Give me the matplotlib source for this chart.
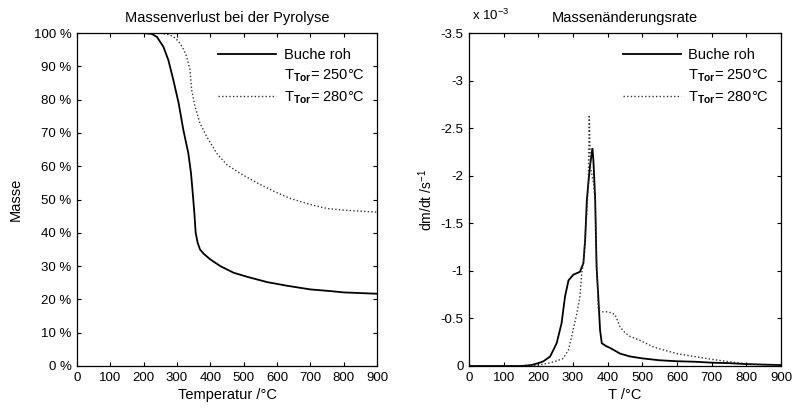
import numpy as np
import matplotlib
matplotlib.use("Agg")
import matplotlib.pyplot as plt
from matplotlib.lines import Line2D
from matplotlib.ticker import FuncFormatter

plt.rcParams['font.family'] = ['Liberation Sans', 'DejaVu Sans']
plt.rcParams['font.size'] = 10
plt.rcParams['axes.unicode_minus'] = False
plt.rcParams['mathtext.fontset'] = 'custom'
plt.rcParams['mathtext.rm'] = 'Liberation Sans'
plt.rcParams['mathtext.bf'] = 'Liberation Sans:bold'

# --- Massenverlust (TGA), Masse in % ---
T_roh = [0, 200, 225, 240, 259, 274, 289, 305, 319, 334, 342, 348, 352, 356,
         362, 369, 380, 400, 430, 470, 510, 570, 630, 700, 760, 800, 900]
m_roh = [100, 100, 99.7, 98.8, 95.9, 91.9, 85.9, 78.9, 70.9, 63.9, 57.9, 51, 46, 40,
         37, 35, 33.7, 32, 30, 28, 26.8, 25.2, 24.1, 23, 22.5, 22.1, 21.7]

T_280 = [0, 250, 279, 295, 309, 320, 329, 339, 344, 354, 369, 389, 419, 449,
         490, 540, 590, 640, 700, 750, 800, 900]
m_280 = [100, 100, 99.4, 98.5, 96.9, 95, 92.9, 88.9, 82.9, 77.9, 72.9, 68.9, 63.9, 60.5,
         57.8, 55, 52.5, 50.3, 48.5, 47.3, 46.8, 46.2]

# --- Massenaenderungsrate dm/dt in 1e-3 1/s ---
Tr_roh = [0, 150, 180, 200, 215, 234, 253, 267, 277, 287, 301, 320, 330, 335, 340,
          345, 349, 352, 356, 359, 364, 368, 373, 378, 383, 395, 407, 436, 465,
          500, 550, 600, 650, 700, 750, 800, 850, 900]
r_roh = [0, 0, -0.01, -0.03, -0.05, -0.10, -0.24, -0.45, -0.73, -0.90, -0.96, -0.99,
         -1.08, -1.32, -1.75, -1.95, -2.10, -2.18, -2.29, -2.15, -1.75, -1.04, -0.73,
         -0.38, -0.24, -0.21, -0.19, -0.13, -0.10, -0.08, -0.06, -0.05, -0.045,
         -0.035, -0.03, -0.02, -0.015, -0.01]

Tr_280 = [0, 180, 200, 230, 250, 272, 287, 296, 311, 320, 325, 330, 335, 340, 344,
          347, 350, 355, 360, 364, 368, 373, 385, 397, 410, 421, 436, 450, 465,
          493, 532, 550, 600, 650, 700, 750, 800, 850, 900]
r_280 = [0, 0, -0.01, -0.03, -0.05, -0.08, -0.17, -0.31, -0.55, -0.73, -0.97, -1.08,
         -1.38, -1.60, -1.91, -2.64, -2.10, -2.00, -1.90, -1.70, -1.10, -0.59, -0.57,
         -0.57, -0.56, -0.54, -0.41, -0.35, -0.31, -0.27, -0.20, -0.18, -0.13, -0.10,
         -0.07, -0.045, -0.025, -0.012, -0.005]

x_ticks = list(range(0, 901, 100))
y_ticks_mass = list(range(0, 101, 10))
y_ticks_rate = [0, -0.5, -1, -1.5, -2, -2.5, -3, -3.5]

labels = ['Buche roh', r'T$_{\mathbf{Tor}}$= 250°C', r'T$_{\mathbf{Tor}}$= 280°C']

W, H = 798, 408
fig = plt.figure(figsize=(W / 100, H / 100), dpi=100)


def rect(x0, y0, x1, y1):
    return [x0 / W, 1 - y1 / H, (x1 - x0) / W, (y1 - y0) / H]


ax1 = fig.add_axes(rect(77, 33, 377, 366))
ax2 = fig.add_axes(rect(469, 33, 781, 366))

solid_kw = dict(color='black', lw=1.3, solid_joinstyle='miter')
dot_kw = dict(color='#333333', lw=1.0, linestyle=(0, (1, 1.6)))

ax1.plot(T_roh, m_roh, **solid_kw)
ax1.plot(T_280, m_280, **dot_kw)
ax2.plot(Tr_roh, r_roh, **solid_kw)
ax2.plot(Tr_280, r_280, **dot_kw)

for ax in (ax1, ax2):
    ax.set_xlim(0, 900)
    ax.set_xticks(x_ticks)
    ax.tick_params(direction='in', top=True, right=True, length=3, width=0.8,
                   labelsize=9.5, pad=4)
    for s in ax.spines.values():
        s.set_linewidth(0.9)

ax1.set_ylim(0, 100)
ax1.set_yticks(y_ticks_mass)
ax1.set_yticklabels([f'{v} %' for v in y_ticks_mass])
ax1.set_xlabel('Temperatur /°C', labelpad=3, fontsize=10.5)
ax1.set_ylabel('Masse', labelpad=8, fontsize=10.5)
ax1.set_title('Massenverlust bei der Pyrolyse', fontsize=10.5, pad=8)

ax2.set_ylim(0, -3.5)
ax2.set_yticks(y_ticks_rate)
ax2.yaxis.set_major_formatter(FuncFormatter(lambda v, p: f'{v:g}'))
ax2.set_xlabel('T /°C', labelpad=3, fontsize=10.5)
ax2.set_ylabel(r'dm/dt /s$^{-1}$', labelpad=4, fontsize=10)
ax2.set_title('Massenänderungsrate', fontsize=10.5, pad=8)
ax2.text(0.01, 1.03, r'x 10$^{-3}$', transform=ax2.transAxes, fontsize=9.5,
         ha='left', va='bottom')

handles = [Line2D([], [], **solid_kw),
           Line2D([], [], linestyle='none'),
           Line2D([], [], **dot_kw)]

for ax, x_anchor in ((ax1, 0.47), (ax2, 0.493)):
    ax.legend(handles, labels, loc='upper left', bbox_to_anchor=(x_anchor, 0.955),
              frameon=False, borderpad=0, borderaxespad=0, handlelength=4.0,
              handletextpad=0.5, labelspacing=0.35, fontsize=10.5)

fig.savefig('out.png', dpi=100)
